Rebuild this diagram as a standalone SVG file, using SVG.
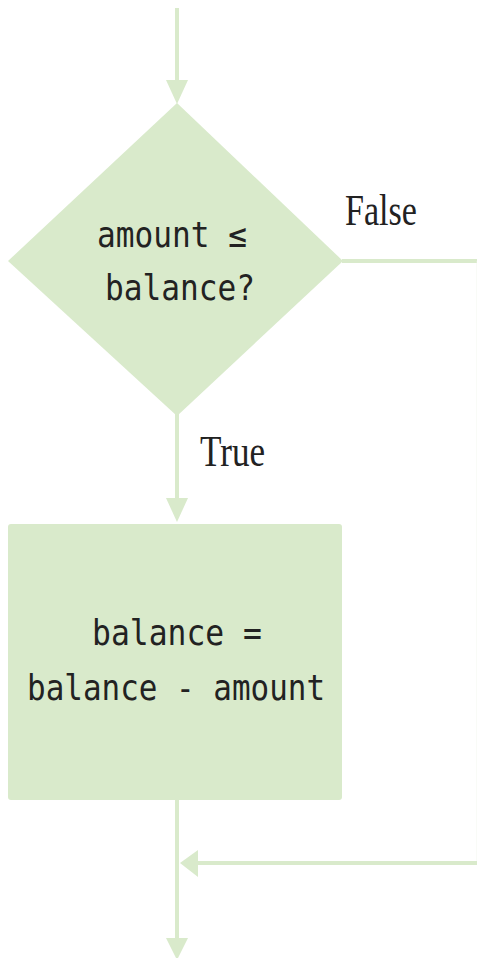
<svg xmlns="http://www.w3.org/2000/svg" width="477" height="958" viewBox="0 0 477 958">
<defs>
<style>
.shape{fill:#d9eacb;}
.line{stroke:#d9eacb;stroke-width:4;fill:none;}
.head{fill:#d9eacb;}
.mono{font-family:"DejaVu Sans Mono","Liberation Mono",monospace;font-size:36px;fill:#222;}
.lbl{font-family:"Liberation Serif","DejaVu Serif",serif;font-size:44px;fill:#222;}
</style>
</defs>
<rect width="477" height="958" fill="#ffffff"/>
<g id="connectors">
<line class="line" x1="177" y1="8" x2="177" y2="84"/>
<polygon class="head" points="166,80 188,80 177,104"/>
<line class="line" x1="342" y1="261" x2="477" y2="261"/>
<line x1="476.8" y1="261" x2="476.8" y2="863" stroke="#eef5e9" stroke-width="0.5"/>
<line class="line" x1="177" y1="414" x2="177" y2="502"/>
<polygon class="head" points="166,498 188,498 177,522"/>
<line class="line" x1="177" y1="800" x2="177" y2="942"/>
<polygon class="head" points="166,938 188,938 177,960"/>
<line class="line" x1="194" y1="863" x2="477" y2="863"/>
<polygon class="head" points="180,863 198,850 198,877"/>
<text class="lbl" x="345" y="225" textLength="72" lengthAdjust="spacingAndGlyphs">False</text>
<text class="lbl" x="200" y="466" textLength="65" lengthAdjust="spacingAndGlyphs">True</text>
</g>
<g id="decision">
<polygon class="shape" points="177,103 343,261 177,416 8,261"/>
<text class="mono" x="97" y="247" textLength="150" lengthAdjust="spacingAndGlyphs">amount ≤</text>
<text class="mono" x="105" y="300" textLength="150" lengthAdjust="spacingAndGlyphs">balance?</text>
</g>
<g id="process">
<rect class="shape" x="8" y="524" width="334" height="276" rx="3"/>
<text class="mono" x="92" y="645" textLength="170" lengthAdjust="spacingAndGlyphs">balance =</text>
<text class="mono" x="27" y="700" textLength="298" lengthAdjust="spacingAndGlyphs">balance - amount</text>
</g>
</svg>
